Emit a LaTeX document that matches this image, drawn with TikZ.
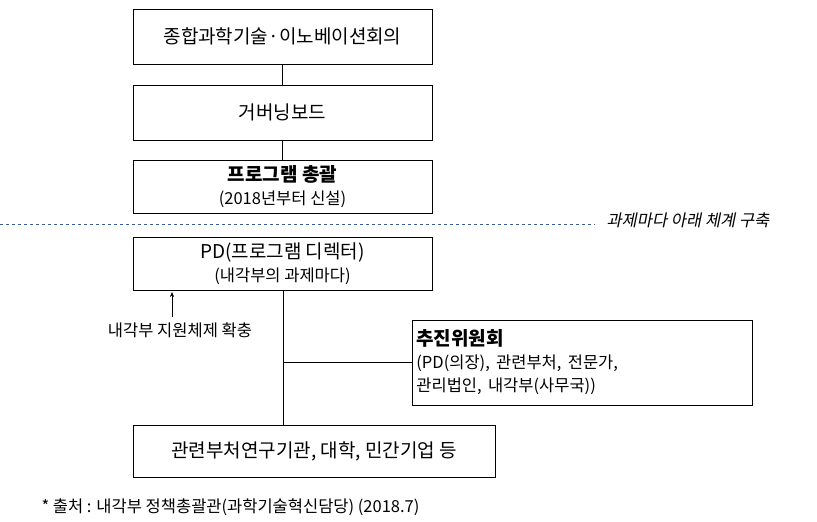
\documentclass[tikz,border=0pt]{standalone}
\usepackage{fontspec}
\setmainfont{Noto Sans CJK KR}
\newfontfamily\slantfont[FakeSlant=0.2]{Noto Sans CJK KR}
\usetikzlibrary{arrows.meta}

\begin{document}
\begin{tikzpicture}[x=1pt, y=-1pt, font=\fontsize{19}{23}\selectfont,
    orgbox/.style = {draw, thick, minimum height=55pt, align=center, inner sep=2pt},
    small/.style = {font=\fontsize{16.5}{21}\selectfont},
    link/.style = {thick}]
	    \useasboundingbox (0,0) rectangle (817,522);

	    % upper chain
	    \node[orgbox, minimum width=299pt] (council) at (282.5,36.5) {종합과학기술·이노베이션회의};
	    \node[orgbox, minimum width=299pt] (board) at (282.5,112.5) {거버닝보드};
	    \node[orgbox, minimum width=299pt, minimum height=53pt] (prog) at (282.5,186.5)
	      {\textbf{프로그램 총괄}\\{\fontsize{16.5}{20}\selectfont (2018년부터 신설)}};
	    \draw[link] (council) -- (board);
	    \draw[link] (board) -- (prog);

	    % dashed separator
	    \coordinate (sepL) at (0,224);
	    \coordinate (sepR) at (595,224);
	    \draw[color=blue!60!cyan, dashed] (sepL) -- (sepR);
	    \node[anchor=west, small] (perTask) at (603,220) {\slantfont 과제마다 아래 체계 구축};

	    % lower part
	    \node[orgbox, minimum width=299pt, minimum height=53pt] (pd) at (282.5,263.5)
	      {PD(프로그램 디렉터)\\{\fontsize{16.5}{20}\selectfont (내각부의 과제마다)}};
	    \node[orgbox, minimum width=362pt, minimum height=52pt] (inst) at (314,451)
	      {관련부처연구기관, 대학, 민간기업 등};
	    \node[orgbox, minimum width=340pt, minimum height=85pt, text width=332pt, align=left, anchor=west] (comm) at (412,362.5)
	      {\textbf{추진위원회}\\{\fontsize{16.5}{21}\selectfont(PD(의장), 관련부처, 전문가,}\\{\fontsize{16.5}{21}\selectfont 관리법인, 내각부(사무국))}};
	    \coordinate (split) at (283,362.5);
	    \draw[link] (283,290) -- (283,425);
	    \draw[very thick] (split) -- (comm.west);

	    % support note
	    \node[small] (support) at (180,330) {내각부 지원체제 확충};
	    \coordinate (arrTip) at (172,292);
	    \draw[-{Stealth[length=5pt, width=4pt]}] (172,317) -- (arrTip);

	    % source
	    \node[anchor=west, small] (source) at (38,507) {*  출처 :  내각부 정책총괄관(과학기술혁신담당) (2018.7)};
	  \end{tikzpicture}
\end{document}
